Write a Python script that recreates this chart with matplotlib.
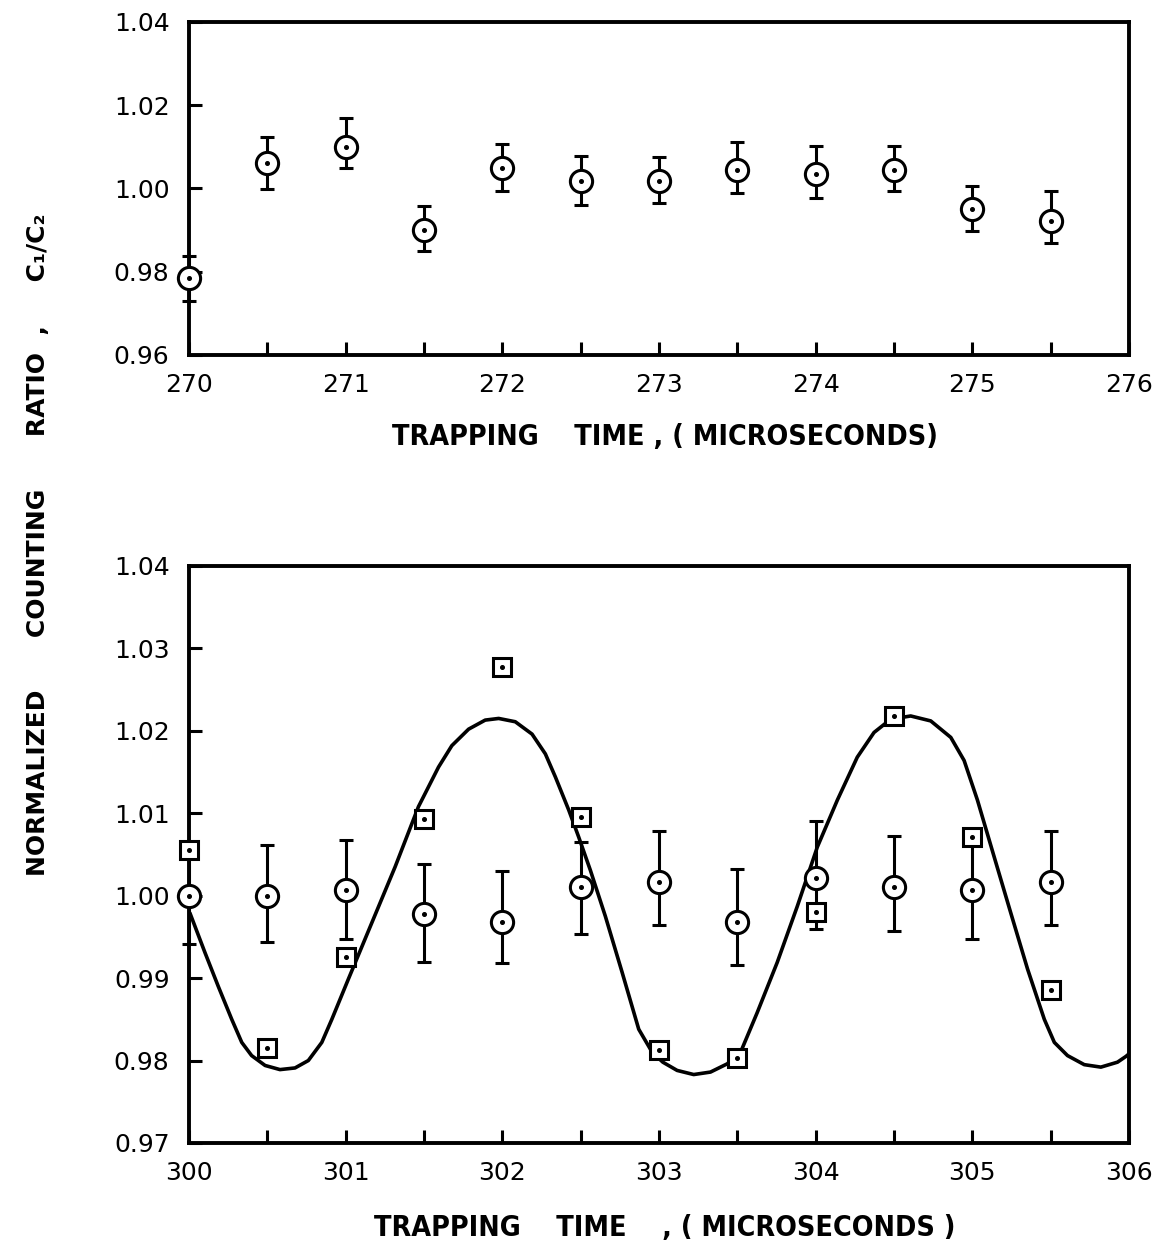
import matplotlib
matplotlib.use("Agg")
import matplotlib.pyplot as plt
from matplotlib import font_manager as fm
from matplotlib.font_manager import FontProperties

# ---------------- data ----------------
top_x = [270.0, 270.5, 271.0, 271.5, 272.0, 272.5, 273.0, 273.5, 274.0, 274.5, 275.0, 275.5]
top_y = [0.9785, 1.0060, 1.0100, 0.9900, 1.0050, 1.0017, 1.0017, 1.0045, 1.0035, 1.0045, 0.9950, 0.9922]
top_err_lo = [0.0056, 0.0062, 0.0052, 0.0050, 0.0057, 0.0057, 0.0053, 0.0055, 0.0057, 0.0050, 0.0052, 0.0054]
top_err_hi = [0.0053, 0.0064, 0.0069, 0.0057, 0.0057, 0.0062, 0.0059, 0.0067, 0.0067, 0.0057, 0.0057, 0.0072]

bot_x = [300.0, 300.5, 301.0, 301.5, 302.0, 302.5, 303.0, 303.5, 304.0, 304.5, 305.0, 305.5]
circ_y = [1.0000, 1.0000, 1.0007, 0.9978, 0.9968, 1.0010, 1.0017, 0.9968, 1.0021, 1.0011, 1.0007, 1.0016]
circ_err_lo = [0.0059, 0.0056, 0.0060, 0.0059, 0.0050, 0.0056, 0.0053, 0.0052, 0.0061, 0.0054, 0.0059, 0.0052]
circ_err_hi = [0.0058, 0.0062, 0.0060, 0.0061, 0.0062, 0.0055, 0.0062, 0.0064, 0.0069, 0.0061, 0.0072, 0.0063]
sq_y = [1.0056, 0.9815, 0.9925, 1.0093, 1.0277, 1.0096, 0.9813, 0.9803, 0.9980, 1.0218, 1.0071, 0.9886]

curve_x = [300.006, 300.102, 300.187, 300.273, 300.337, 300.400, 300.486, 300.581, 300.677, 300.762,
           300.848, 300.912, 301.018, 301.167, 301.316, 301.465, 301.593, 301.678, 301.785, 301.891,
           301.977, 302.083, 302.190, 302.275, 302.339, 302.424, 302.488, 302.562, 302.658, 302.765,
           302.871, 302.957, 303.025, 303.116, 303.222, 303.329, 303.436, 303.521, 303.627, 303.755,
           303.883, 304.011, 304.139, 304.266, 304.373, 304.479, 304.607, 304.735, 304.863, 304.948,
           305.033, 305.140, 305.246, 305.353, 305.460, 305.524, 305.608, 305.715, 305.821, 305.927,
           305.981, 306.000]
curve_y = [0.9979, 0.9931, 0.9890, 0.9850, 0.9822, 0.9806, 0.9794, 0.9789, 0.9791, 0.9800,
           0.9822, 0.9850, 0.9899, 0.9967, 1.0035, 1.0108, 1.0156, 1.0182, 1.0202, 1.0213,
           1.0215, 1.0211, 1.0196, 1.0172, 1.0144, 1.0104, 1.0071, 1.0031, 0.9975, 0.9907,
           0.9838, 0.9810, 0.9798, 0.9788, 0.9783, 0.9786, 0.9796, 0.9810, 0.9858, 0.9919,
           0.9987, 1.0059, 1.0116, 1.0168, 1.0198, 1.0214, 1.0218, 1.0212, 1.0192, 1.0164,
           1.0116, 1.0047, 0.9979, 0.9911, 0.9850, 0.9822, 0.9806, 0.9795, 0.9792, 0.9798,
           0.9805, 0.9808]

top_xticks = [270, 271, 272, 273, 274, 275, 276]
top_yticks = [0.96, 0.98, 1.00, 1.02, 1.04]
top_yticklabels = ["0.96", "0.98", "1.00", "1.02", "1.04"]
bot_xticks = [300, 301, 302, 303, 304, 305, 306]
bot_yticks = [0.97, 0.98, 0.99, 1.00, 1.01, 1.02, 1.03, 1.04]
bot_yticklabels = ["0.97", "0.98", "0.99", "1.00", "1.01", "1.02", "1.03", "1.04"]

xlabel_top = "TRAPPING    TIME , ( MICROSECONDS)"
xlabel_bot = "TRAPPING    TIME    , ( MICROSECONDS )"
ylabel = "NORMALIZED      COUNTING      RATIO  ,     C\u2081/C\u2082"

# ---------------- fonts ----------------
cond_path = None
for f in fm.fontManager.ttflist:
    base = f.fname.split("/")[-1]
    if base in ("DejaVuSansCondensed-Bold.ttf", "LiberationSansNarrow-Bold.ttf"):
        cond_path = f.fname
        break
if cond_path:
    xlab_fp = FontProperties(fname=cond_path, size=20.5)
else:
    xlab_fp = FontProperties(family="DejaVu Sans", weight="bold", size=18.5)
ylab_fp = FontProperties(family="DejaVu Sans", weight="bold", size=18)

plt.rcParams["font.family"] = ["DejaVu Sans"]

fig = plt.figure(figsize=(11.6, 12.56), dpi=100)
ax1 = fig.add_axes([0.1629, 0.7174, 0.8103, 0.2651])
ax2 = fig.add_axes([0.1629, 0.0900, 0.8103, 0.4594])

LW = 2.2


def style(ax, xlim, ylim, xticks, yticks, yticklabels):
    ax.set_xlim(*xlim)
    ax.set_ylim(*ylim)
    ax.set_xticks(xticks)
    ax.set_xticklabels([str(t) for t in xticks])
    ax.set_xticks([t + 0.5 for t in xticks[:-1]], minor=True)
    ax.set_yticks(yticks)
    ax.set_yticklabels(yticklabels)
    for s in ax.spines.values():
        s.set_linewidth(2.8)
    ax.tick_params(axis="both", which="both", direction="in", length=9.5, width=LW,
                   top=False, right=False, labelsize=18)
    ax.tick_params(axis="x", which="major", pad=13)
    ax.tick_params(axis="y", which="major", pad=14)


style(ax1, (270, 276), (0.96, 1.04), top_xticks, top_yticks, top_yticklabels)
style(ax2, (300, 306), (0.97, 1.04), bot_xticks, bot_yticks, bot_yticklabels)

# top panel
ax1.errorbar(top_x, top_y, yerr=[top_err_lo, top_err_hi], fmt="o", ms=16,
             mfc="white", mec="black", mew=LW, ecolor="black", elinewidth=LW,
             capsize=5, capthick=3.5, zorder=4, clip_on=False)
ax1.plot(top_x, top_y, "o", ms=2.6, color="black", zorder=6, clip_on=False)

# bottom panel
ax2.plot(curve_x, curve_y, "-", color="black", lw=2.6, zorder=3,
         solid_joinstyle="round", solid_capstyle="round")
ax2.errorbar(bot_x, circ_y, yerr=[circ_err_lo, circ_err_hi], fmt="o", ms=16,
             mfc="white", mec="black", mew=LW, ecolor="black", elinewidth=LW,
             capsize=5, capthick=3.5, zorder=4, clip_on=False)
ax2.plot(bot_x, circ_y, "o", ms=2.6, color="black", zorder=6, clip_on=False)
ax2.plot(bot_x, sq_y, "s", ms=12.5, mfc="white", mec="black", mew=LW, zorder=5, clip_on=False)
ax2.plot(bot_x, sq_y, "o", ms=2.6, color="black", zorder=6, clip_on=False)

# labels
fig.text(665 / 1160, 1 - 437 / 1256, xlabel_top, ha="center", va="center",
         fontproperties=xlab_fp)
fig.text(665 / 1160, 1 - 1228 / 1256, xlabel_bot, ha="center", va="center",
         fontproperties=xlab_fp)
fig.text(38 / 1160, 1 - 545 / 1256, ylabel, ha="center", va="center", rotation=90,
         fontproperties=ylab_fp)

fig.savefig("out.png", dpi=100, facecolor="white")
